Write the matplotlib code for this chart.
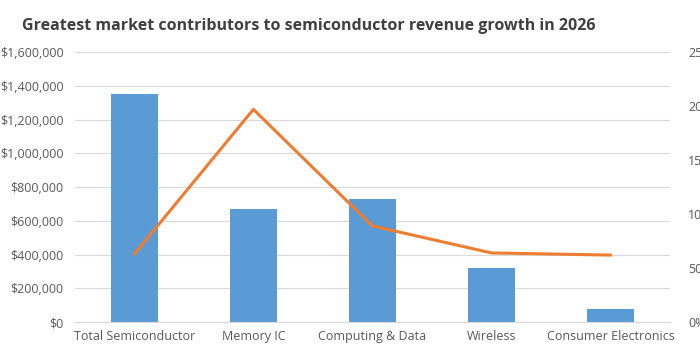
import matplotlib.pyplot as plt
from matplotlib.ticker import FuncFormatter

categories = ["Total Semiconductor", "Memory IC", "Computing & Data", "Wireless", "Consumer Electronics"]
revenue = [1350000, 672000, 730000, 320000, 77000]
growth = [63, 197, 89, 64, 62]

plt.rcParams['font.family'] = ['Open Sans', 'DejaVu Sans']

fig = plt.figure(figsize=(7, 3.5), dpi=100)
ax = fig.add_axes([0.107, 0.08, 0.85, 0.771])
ax2 = ax.twinx()

x = range(len(categories))
ax.bar(x, revenue, width=0.4, color="#5b9bd5", zorder=2)
ax2.plot(x, growth, color="#ed7d31", linewidth=2.2, zorder=3)

ax.set_xlim(-0.5, len(categories) - 0.5)
ax.set_ylim(0, 1600000)
ax.set_yticks(range(0, 1600001, 200000))
ax.yaxis.set_major_formatter(FuncFormatter(lambda v, p: "${:,.0f}".format(v)))
ax2.set_ylim(0, 250)
ax2.set_yticks(range(0, 251, 50))
ax2.yaxis.set_major_formatter(FuncFormatter(lambda v, p: "{:.0f}%".format(v)))

ax.set_xticks(list(x))
ax.set_xticklabels(categories)
ax.grid(axis="y", color="#d9d9d9", linewidth=0.8, zorder=0)
ax.set_axisbelow(True)

for a in (ax, ax2):
    for s in a.spines.values():
        s.set_visible(False)
    a.tick_params(length=0, colors="#595959", labelsize=9)
ax.spines["bottom"].set_visible(True)
ax.spines["bottom"].set_color("#d9d9d9")
ax.tick_params(axis="y", pad=8)
ax.tick_params(axis="x", pad=6)
ax2.tick_params(axis="y", pad=13)

ax2.set_zorder(ax.get_zorder() + 1)
ax2.patch.set_visible(False)

fig.text(0.031, 0.925, "Greatest market contributors to semiconductor revenue growth in 2026",
         fontsize=11.5, fontweight="bold", color="#404040", va="center")

fig.savefig("out.png", dpi=100)
